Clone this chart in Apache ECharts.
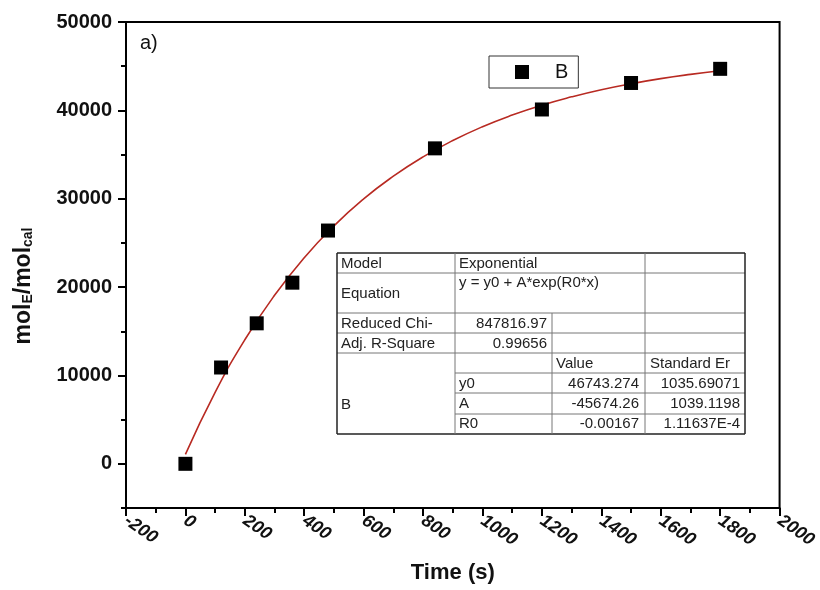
<!DOCTYPE html>
<html>
<head>
<meta charset="utf-8">
<script src="https://cdn.jsdelivr.net/npm/echarts@6/dist/echarts.min.js"></script>
<style>
  html, body { margin: 0; padding: 0; background: #fff; }
  #chart { width: 820px; height: 590px; }
</style>
</head>
<body>
<div id="chart"></div>
<script>
// measured points (time in s, mol_E/mol_cal)
const timeS = [0, 120, 240, 360, 480, 840, 1200, 1500, 1800];
const molRatio = [0, 10900, 15900, 20500, 26400, 35700, 40100, 43100, 44700];

// red fit curve
const fitTime = [0, 100, 200, 300, 400, 500, 600, 700, 800, 900, 1000, 1100, 1200, 1300, 1400, 1500, 1600, 1700, 1800];
const fitValue = [1070, 8090, 14040, 19070, 23330, 26930, 29980, 32550, 34740, 36580, 38150, 39470, 40590, 41530, 42340, 43010, 43590, 44070, 44480];

// axis ticks
const yLabelTicks = [0, 10000, 20000, 30000, 40000, 50000];
const yMinorTicks = [-5000, 5000, 15000, 25000, 35000, 45000];

// fit result table
const tableRows = [
  ['Model', 'Exponential'],
  ['Equation', 'y = y0 + A*exp(R0*x)'],
  ['Reduced Chi-', '847816.97'],
  ['Adj. R-Square', '0.99656'],
  ['', '', 'Value', 'Standard Er'],
  ['B', 'y0', '46743.274', '1035.69071'],
  ['', 'A', '-45674.26', '1039.1198'],
  ['', 'R0', '-0.00167', '1.11637E-4']
];

const FONT = '"Liberation Sans", Arial, sans-serif';
const chart = echarts.init(document.getElementById('chart'));

// table drawing (graphic)
function tableGraphic() {
  const L = 337, C1 = 455, C2 = 552, C3 = 645, R = 745;
  const T = 253, B = 434;
  const rowY = [253, 273, 313, 333, 353, 373, 393, 414, 434];
  const els = [];
  const ln = (x1, y1, x2, y2, w) => els.push({
    type: 'line', silent: true,
    shape: { x1: x1, y1: y1, x2: x2, y2: y2 },
    style: { stroke: w > 1 ? '#222' : '#777', lineWidth: w || 1 }
  });
  // horizontals
  ln(L, T, R, T, 1.5); ln(L, B, R, B, 1.5);
  ln(L, rowY[1], R, rowY[1]); ln(L, rowY[2], R, rowY[2]);
  ln(L, rowY[3], R, rowY[3]); ln(L, rowY[4], R, rowY[4]);
  ln(C1, rowY[5], R, rowY[5]); ln(C1, rowY[6], R, rowY[6]); ln(C1, rowY[7], R, rowY[7]);
  // verticals
  ln(L, T, L, B, 1.5); ln(R, T, R, B, 1.5);
  ln(C1, T, C1, B); ln(C2, rowY[2], C2, B); ln(C3, T, C3, B);

  const txt = (s, x, y, align) => els.push({
    type: 'text', silent: true, x: x, y: y,
    style: { text: s, fontSize: 15, fontFamily: FONT, fill: '#222', align: align || 'left', verticalAlign: 'middle' }
  });
  txt(tableRows[0][0], 341, 264); txt(tableRows[0][1], 459, 264);
  txt(tableRows[1][0], 341, 294); txt(tableRows[1][1], 459, 283);
  txt(tableRows[2][0], 341, 324); txt(tableRows[2][1], 547, 324, 'right');
  txt(tableRows[3][0], 341, 344); txt(tableRows[3][1], 547, 344, 'right');
  txt(tableRows[4][2], 556, 364); txt(tableRows[4][3], 650, 364);
  const ys = [384, 404, 424];
  for (let i = 0; i < 3; i++) {
    const r = tableRows[5 + i];
    txt(r[1], 459, ys[i]);
    txt(r[2], 639, ys[i], 'right');
    txt(r[3], 740, ys[i], 'right');
  }
  txt(tableRows[5][0], 341, 405);
  return els;
}

const plain = v => String(v);

const option = {
  animation: false,
  textStyle: { fontFamily: FONT },
  grid: {
    left: 126, right: 39, top: 22, bottom: 82,
    show: true, borderColor: '#000', borderWidth: 2, backgroundColor: 'transparent'
  },
  legend: {
    data: ['B'],
    left: 489, top: 56,
    orient: 'horizontal',
    borderColor: '#333', borderWidth: 1,
    padding: [6, 10, 6, 26],
    itemWidth: 14, itemHeight: 14,
    textStyle: { fontSize: 20, color: '#111', padding: [0, 0, 0, 21], fontFamily: FONT }
  },
  xAxis: {
    type: 'value',
    min: -200, max: 2000, interval: 200,
    name: 'Time (s)',
    nameLocation: 'middle', nameGap: 54,
    nameTextStyle: { fontSize: 22, fontWeight: 'bold', color: '#111', fontFamily: FONT },
    axisLine: { onZero: false, lineStyle: { color: '#000', width: 2 } },
    axisTick: { length: 8, lineStyle: { color: '#000', width: 2 } },
    minorTick: { show: true, splitNumber: 2, length: 5, lineStyle: { color: '#000', width: 2 } },
    axisLabel: { rotate: -35, margin: 11, fontSize: 18, fontWeight: 'bold', fontStyle: 'italic', color: '#111', fontFamily: FONT, formatter: plain },
    splitLine: { show: false }
  },
  yAxis: [{
    type: 'value',
    min: -5000, max: 50000,
    axisLine: { onZero: false, lineStyle: { color: '#000', width: 2 } },
    axisTick: { customValues: yLabelTicks, length: 8, lineStyle: { color: '#000', width: 2 } },
    axisLabel: { customValues: yLabelTicks, margin: 14, fontSize: 20, fontWeight: 'bold', color: '#111', fontFamily: FONT, formatter: plain },
    splitLine: { show: false }
  }, {
    type: 'value',
    min: -5000, max: 50000,
    position: 'left', offset: 0,
    axisLine: { show: false, onZero: false },
    axisTick: { customValues: yMinorTicks, length: 5, lineStyle: { color: '#000', width: 2 } },
    axisLabel: { show: false },
    splitLine: { show: false }
  }],
  graphic: [
    {
      type: 'text', left: 140, top: 33,
      style: { text: 'a)', fontSize: 20, fontFamily: FONT, fill: '#111' }
    },
    {
      type: 'text', x: 24, y: 286, rotation: Math.PI / 2,
      style: {
        text: '{m|mol}{s|E}{m|/mol}{s|cal}',
        align: 'center', verticalAlign: 'middle',
        rich: {
          m: { fontSize: 23, fontWeight: 'bold', fontFamily: FONT, fill: '#111' },
          s: { fontSize: 14, fontWeight: 'bold', fontFamily: FONT, fill: '#111', padding: [9, 0, 0, 0] }
        }
      }
    }
  ].concat(tableGraphic()),
  series: [{
    name: 'fit',
    type: 'line',
    smooth: true,
    symbol: 'none',
    data: fitTime.map((t, i) => [t, fitValue[i]]),
    lineStyle: { color: '#b82a22', width: 1.6 },
    z: 2
  }, {
    name: 'B',
    type: 'scatter',
    symbol: 'rect',
    symbolSize: 14,
    data: timeS.map((t, i) => [t, molRatio[i]]),
    itemStyle: { color: '#000', opacity: 1 },
    z: 3
  }]
};
chart.setOption(option);
</script>
</body>
</html>
